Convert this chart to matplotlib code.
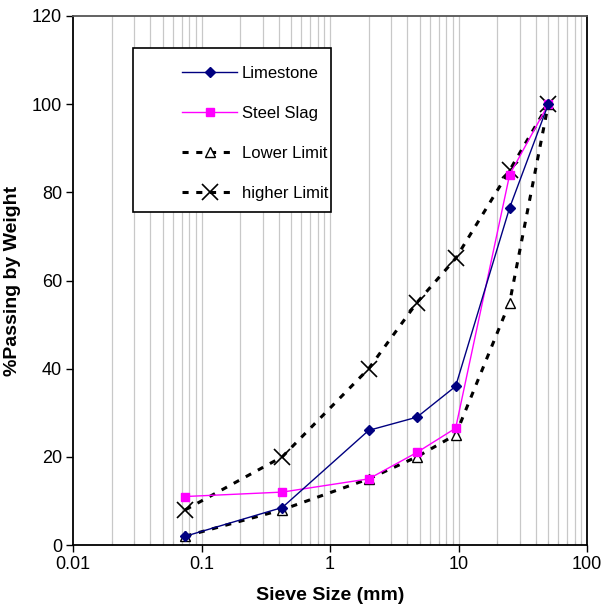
import matplotlib

matplotlib.use("Agg")
import matplotlib.pyplot as plt
from matplotlib.patches import Rectangle
from matplotlib.ticker import FixedLocator, LogLocator, NullFormatter

plt.rcParams["font.family"] = ["Liberation Sans", "DejaVu Sans"]

sieve_mm = [0.075, 0.425, 2.0, 4.75, 9.5, 25.0, 50.0]
limestone = [2, 8.5, 26, 29, 36, 76.5, 100]
steel_slag = [11, 12, 15, 21, 26.5, 84, 100]
lower_limit = [2, 8, 15, 20, 25, 55, 100]
higher_limit = [8, 20, 40, 55, 65, 85, 100]

x_ticks = [0.01, 0.1, 1, 10, 100]
x_tick_labels = ["0.01", "0.1", "1", "10", "100"]
y_ticks = [0, 20, 40, 60, 80, 100, 120]

fig = plt.figure(figsize=(6.03, 6.11), dpi=100)
ax = fig.add_axes([73 / 603, 1 - 545 / 611, 514 / 603, 529 / 611])

ax.set_xscale("log")
ax.set_xlim(0.01, 100)
ax.set_ylim(0, 120)

# vertical grid at every log decade step
grid_x = [m * 10.0 ** e for e in range(-2, 2) for m in range(1, 10)][1:]
for gx in grid_x:
    ax.axvline(gx, color="#c8c8c8", lw=0.9, zorder=0)

ax.plot(sieve_mm, limestone, color="#000080", lw=1.0, marker="D", ms=5,
        label="Limestone", zorder=4)
ax.plot(sieve_mm, steel_slag, color="#ff00ff", lw=1.0, marker="s", ms=6,
        label="Steel Slag", zorder=3)
ax.plot(sieve_mm, lower_limit, color="black", lw=2.2, ls=(0, (2, 2.5)),
        marker="^", ms=7, mfc="white", mec="black", mew=1.0,
        label="Lower Limit", zorder=2)
ax.plot(sieve_mm, higher_limit, color="black", lw=2.2, ls=(0, (2, 2.5)),
        marker="x", ms=11, mew=1.2, label="higher Limit", zorder=2)

ax.xaxis.set_major_locator(FixedLocator(x_ticks))
ax.set_xticklabels(x_tick_labels)
ax.xaxis.set_minor_locator(LogLocator(base=10, subs=range(2, 10)))
ax.xaxis.set_minor_formatter(NullFormatter())
ax.set_yticks(y_ticks)

ax.tick_params(axis="both", which="major", direction="out", length=5, width=1,
               labelsize=13, pad=3)
ax.tick_params(axis="x", which="minor", direction="in", length=3, width=0.8,
               color="#bbbbbb")

for side in ["left", "bottom", "right"]:
    ax.spines[side].set_color("black")
    ax.spines[side].set_linewidth(1.3)
ax.spines["top"].set_color("#555555")
ax.spines["top"].set_linewidth(1.3)

ax.set_xlabel("Sieve Size (mm)", fontsize=14, fontweight="bold", labelpad=10)
ax.set_ylabel("%Passing by Weight", fontsize=14, fontweight="bold", labelpad=8)

# legend box is drawn separately: the original has a wide empty margin on the left
box = Rectangle((60 / 514, 1 - 196 / 529), 198 / 514, 164 / 529,
                transform=ax.transAxes, facecolor="white", edgecolor="black",
                lw=1.2, zorder=9)
ax.add_patch(box)

leg = ax.legend(loc="upper left", bbox_to_anchor=(109 / 514, 1 - 50 / 529),
                fontsize=12, frameon=False, handlelength=3.3,
                labelspacing=1.5, borderpad=0, handletextpad=0.3,
                borderaxespad=0)
leg.set_zorder(10)

fig.savefig("out.png", dpi=100)
